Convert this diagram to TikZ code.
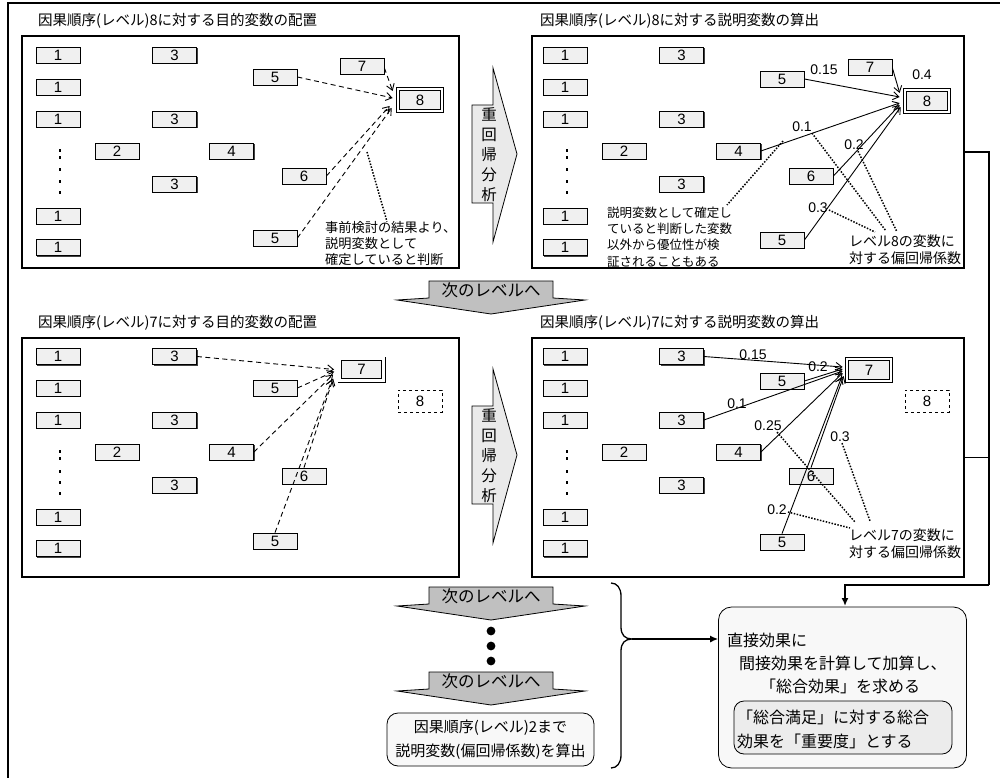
\documentclass[tikz,border=0pt]{standalone}
\usepackage{fontspec}
\setmainfont{Noto Sans CJK JP}
\newfontfamily\numfont{Liberation Sans}
\usetikzlibrary{arrows.meta,calc,shadows}
\definecolor{boxgray}{RGB}{240,240,240}
\definecolor{arrgray}{RGB}{234,234,234}
\definecolor{nextgray}{RGB}{192,192,192}
\definecolor{softgray}{RGB}{248,248,248}
\definecolor{innergray}{RGB}{236,236,236}
\newcommand\fsz[2]{\fontsize{#1}{#2}\selectfont}
\tikzset{
  vbox/.style={draw, line width=0.8pt, fill=boxgray, minimum width=44pt, minimum height=16pt, inner sep=0pt, font=\numfont\fsz{15}{15},
    drop shadow={shadow xshift=1pt, shadow yshift=-1pt, fill=black!75, opacity=1}},
  tbox/.style={draw, line width=0.9pt, fill=boxgray, minimum width=43.8pt, minimum height=21.8pt, inner sep=0pt, font=\numfont\fsz{15}{15}, double=white, double distance=2.4pt},
  dbox/.style={draw, dashed, line width=0.9pt, fill=white, minimum width=44pt, minimum height=22pt, inner sep=0pt, font=\numfont\fsz{15}{15}},
  panel/.style={draw, line width=1.6pt, minimum width=#1, inner sep=0pt},
  title/.style={anchor=west, inner sep=0pt, font=\fsz{14.5}{16}},
  dasharr/.style={line width=0.9pt, dash pattern=on 5pt off 3.5pt, -{Straight Barb[length=6pt,width=8pt]}},
  solarr/.style={line width=0.9pt, -{Straight Barb[length=6pt,width=8pt]}},
  dotln/.style={line width=1.5pt, dash pattern=on 1.5pt off 1.5pt},
  coef/.style={inner sep=0pt, font=\numfont\fsz{14}{15}},
  note/.style={anchor=west, align=left, inner sep=0pt, font=\fsz{12.5}{16.3}},
  nextshape/.style={fill=nextgray, draw, line width=0.8pt},
  nexttext/.style={inner sep=0pt, font=\fsz{16.5}{17}},
  rwshape/.style={fill=arrgray, draw, line width=0.8pt},
}
\newcommand\panelbase[3]{%
\begin{scope}[shift={(#2,#3)}]
\node[vbox] (#1onea) at (58,55.5) {1};
\node[vbox] (#1oneb) at (58,87) {1};
\node[vbox] (#1onec) at (58,119) {1};
\node[vbox] (#1oned) at (58,216) {1};
\node[vbox] (#1onee) at (58,247.5) {1};
\foreach \yy in {150.5,157.5,170,181.5,192.5} \fill (58.7,\yy-1.5) rectangle (61.3,\yy+1.5);
\node[vbox] (#1two) at (117,151) {2};
\node[vbox] (#1threea) at (174.5,55.5) {3};
\node[vbox] (#1threeb) at (174.5,119) {3};
\node[vbox] (#1threec) at (174.5,184) {3};
\node[vbox] (#1four) at (231.5,151) {4};
\end{scope}}
\newcommand\nextarrow[3]{%
\draw[nextshape] ({#2-62},#3) -- ({#2+62},#3) -- ({#2+62},{#3+17}) -- ({#2+94},{#3+19}) -- (#2,{#3+33}) -- ({#2-94},{#3+19}) -- ({#2-62},{#3+17}) -- cycle;
\node[nexttext] (#1) at (#2,{#3+9}) {次のレベルへ};}
\newcommand\rwarrow[2]{%
\draw[rwshape] (472,{#2+105}) -- (493,{#2+105}) -- (493,{#2+68}) -- (517,{#2+154}) -- (493,{#2+242}) -- (493,{#2+203}) -- (472,{#2+203}) -- cycle;
\node[inner sep=0pt, align=center, font=\fsz{15.5}{20}] (#1) at (489,{#2+155}) {重\\回\\帰\\分\\析};}
\begin{document}
\begin{tikzpicture}[x=1pt,y=-1pt]
\useasboundingbox (0,0) rectangle (1000,778);
% outer frame
\draw[line width=2.4pt] (8,778) -- (8,3) -- (1000,3);
% panels
\node[panel=437pt, minimum height=232pt] (tlp) at (240.5,152) {};
\node[panel=432pt, minimum height=232pt] (trp) at (748,152) {};
\node[panel=437pt, minimum height=239pt] (blp) at (240.5,457.5) {};
\node[panel=432pt, minimum height=239pt] (brp) at (748,457.5) {};
% titles
\node[title] (tlt) at (38,21) {因果順序(レベル)8に対する目的変数の配置};
\node[title] (trt) at (540,21) {因果順序(レベル)8に対する説明変数の算出};
\node[title] (blt) at (38,323) {因果順序(レベル)7に対する目的変数の配置};
\node[title] (brt) at (540,323) {因果順序(レベル)7に対する説明変数の算出};
% multiple regression arrows
\rwarrow{rwa}{0}
\rwarrow{rwb}{301}
% ---------- top-left ----------
\panelbase{tl}{0}{0}
\node[vbox] (tlfivea) at (275,77) {5};
\node[vbox] (tlseven) at (362,66) {7};
\node[tbox] (tleight) at (420,100) {8};
\node[vbox] (tlsix) at (304,176) {6};
\node[vbox] (tlfiveb) at (275,238) {5};
\draw[dasharr] (tlfivea.east) -- ($(tleight.west)+(-5,-2)$);
\draw[dasharr] ($(tlseven.east)+(0,2)$) -- ($(tleight.west)+(-5,-9)$);
\draw[dasharr] (tlsix.east) -- ($(tleight.west)+(-8,6)$);
\draw[dasharr] (tlfiveb.east) -- ($(tleight.west)+(-6,8)$);
\node[note, font=\fsz{13.2}{16}] (tlnote) at (325,244) {事前検討の結果より、\\説明変数として\\確定していると判断};
\coordinate (tldot) at (367,152);
\draw[dotln] (tldot) -- ($(tlnote.north west)+(62,0)$);
% ---------- top-right ----------
\panelbase{tr}{507}{0}
\node[vbox] (trfivea) at (782,79) {5};
\node[vbox] (trseven) at (870,67) {7};
\node[tbox] (treight) at (927,101) {8};
\node[vbox] (trsix) at (811,176) {6};
\node[vbox] (trfiveb) at (782,240) {5};
\draw[solarr] (trfivea.east) -- ($(treight.west)+(-5,-4)$);
\draw[solarr] ($(trseven.east)+(0,1)$) -- ($(treight.west)+(-5,-8)$);
\draw[solarr] (trfour.east) -- ($(treight.west)+(-5,2)$);
\draw[solarr] (trsix.east) -- ($(treight.west)+(-5,4)$);
\draw[solarr] (trfiveb.east) -- ($(treight.west)+(-4,6)$);
\node[coef] (trca) at (824,70) {0.15};
\node[coef] (trcb) at (922,75) {0.4};
\node[coef] (trcc) at (802,127) {0.1};
\node[coef] (trcd) at (854,145) {0.2};
\node[coef] (trce) at (818,208) {0.3};
\node[note] (trnotea) at (607,237) {説明変数として確定し\\ていると判断した変数\\以外から優位性が検\\証されることもある};
\node[note, font=\fsz{14}{17}] (trnoteb) at (849,250) {レベル8の変数に\\対する偏回帰係数};
\coordinate (trdx) at (783,141);
\draw[dotln] (trdx) -- (727,205);
\coordinate (trcvg) at (886,231);
\draw[dotln] ($(trcc.south)+(10,1)$) -- (trcvg);
\draw[dotln] ($(trcd.south)+(4,1)$) -- (897,232);
\draw[dotln] ($(trce.east)+(1,2)$) -- (875,232);
% ---------- bottom-left ----------
\panelbase{bl}{0}{301}
\node[vbox] (blfivea) at (275,388) {5};
\node[tbox] (blseven) at (361.5,369.5) {7};
\node[dbox] (bleight) at (420,401) {8};
\node[vbox] (blsix) at (304,476) {6};
\node[vbox] (blfiveb) at (275,541) {5};
\draw[dasharr] (blthreea.east) -- ($(blseven.west)+(-5,0)$);
\draw[dasharr] (blfivea.east) -- ($(blseven.west)+(-5,2)$);
\draw[dasharr] (blfour.east) -- ($(blseven.west)+(-6,5)$);
\draw[dasharr] (blsix.north) -- ($(blseven.west)+(-6,9)$);
\draw[dasharr] (blfiveb.north) -- ($(blseven.west)+(-7,10)$);
% ---------- bottom-right ----------
\panelbase{br}{507}{301}
\node[vbox] (brfivea) at (782,381) {5};
\node[tbox] (brseven) at (869,370) {7};
\node[dbox] (breight) at (927,401) {8};
\node[vbox] (brsix) at (811,476) {6};
\node[vbox] (brfiveb) at (782,542) {5};
\draw[solarr] (brthreea.east) -- ($(brseven.west)+(-4,-3)$);
\draw[solarr] (brfivea.east) -- ($(brseven.west)+(-4,-1)$);
\draw[solarr] (brthreeb.east) -- ($(brseven.west)+(-4,1)$);
\draw[solarr] (brfour.east) -- ($(brseven.west)+(-4,3)$);
\draw[solarr] (brsix.north) -- ($(brseven.west)+(-3,6)$);
\draw[solarr] (brfiveb.north) -- ($(brseven.west)+(-5,7)$);
\node[coef] (brca) at (753,355) {0.15};
\node[coef] (brcb) at (818,367) {0.2};
\node[coef] (brcc) at (737,404) {0.1};
\node[coef] (brcd) at (768,426) {0.25};
\node[coef] (brce) at (840,437) {0.3};
\node[coef] (brcf) at (777,510) {0.2};
\node[note, font=\fsz{14}{17}] (brnote) at (849,544) {レベル7の変数に\\対する偏回帰係数};
\draw[dotln] ($(brcd.south)+(9,1)$) -- (855,522);
\draw[dotln] ($(brce.south)+(2,1)$) -- (870,521);
\draw[dotln] ($(brcf.east)+(1,2)$) -- (850,528);
% ---------- next level arrows ----------
\nextarrow{nxa}{491}{281}
\nextarrow{nxb}{491}{587}
\nextarrow{nxc}{491}{672}
\foreach \yy in {631,646,661} \fill (491,\yy) circle (4.4);
\node[draw, rounded corners=11pt, fill=softgray, line width=0.8pt, minimum width=207pt, minimum height=53pt, align=center, font=\fsz{15}{24}] (lvtwo) at (490.5,739.5) {因果順序(レベル)2まで\\説明変数(偏回帰係数)を算出};
% brace
\draw[line width=1.3pt] (611,583) .. controls (617,583) and (621,588) .. (621,596) -- (621,627) .. controls (621,635) and (625,639) .. (632,639) .. controls (625,639) and (621,643) .. (621,651) -- (621,755) .. controls (621,763) and (617,768) .. (611,768);
\coordinate (bracetip) at (632,639);
% final box
\node[draw, rounded corners=13pt, fill=softgray, line width=0.8pt, minimum width=248pt, minimum height=161pt] (final) at (842.5,687.5) {};
\node[anchor=west, align=left, inner sep=0pt, font=\fsz{16}{23}] (fintext) at (727,663) {直接効果に\\\hspace*{12pt}間接効果を計算して加算し、\\\hspace*{33pt}「総合効果」を求める};
\node[draw, rounded corners=10pt, fill=innergray, line width=0.8pt, minimum width=218pt, minimum height=53pt] (inner) at (843,727.5) {};
\node[anchor=west, align=left, inner sep=0pt, font=\fsz{16}{24}] (innertext) at (737,729) {「総合満足」に対する総合\\効果を「重要度」とする};
\draw[line width=1.3pt, -{Latex[length=8pt,width=7pt]}] (bracetip) -- (bracetip -| final.west);
% right connector
\coordinate (rc) at (989,585);
\draw[line width=1.6pt] (trp.east) -- (trp.east -| rc) -- (rc);
\draw[line width=1.6pt] (brp.east) -- (brp.east -| rc);
\draw[line width=1.6pt, -{Latex[length=8pt,width=7pt]}] (rc) -- (845,585) -- (845,606);
\end{tikzpicture}
\end{document}
